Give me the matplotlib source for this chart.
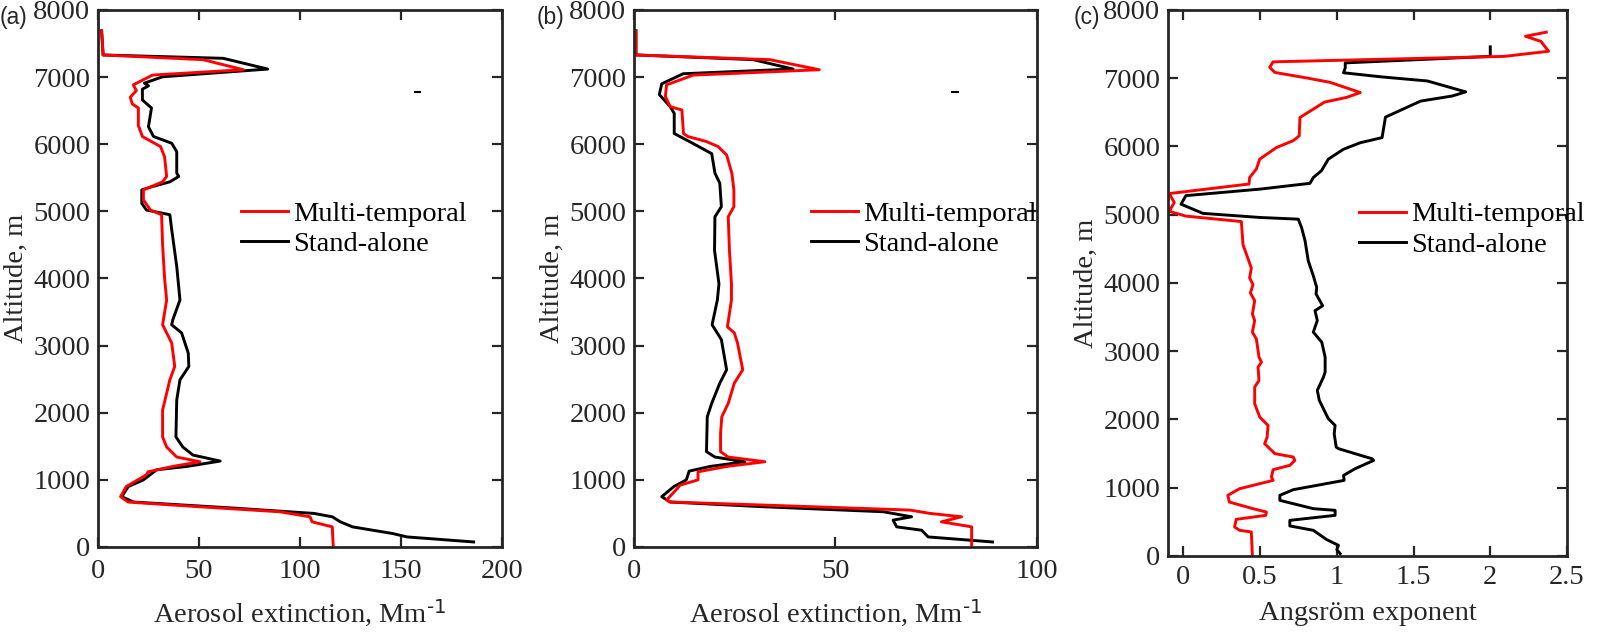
import matplotlib.pyplot as plt

plt.rcParams['font.family'] = ['Liberation Serif', 'DejaVu Serif']
plt.rcParams['mathtext.default'] = 'regular'

# (a) aerosol extinction, Mm-1
alt_a_multi = [7690, 7360, 7330, 7260, 7110, 7030, 6885, 6800, 6700, 6600, 6540, 6280, 6115,
               5965, 5810, 5520, 5440, 5320, 5170, 5020, 4950, 4500, 4000, 3680, 3310, 3040,
               2690, 2490, 2040, 1640, 1490, 1340, 1270, 1200, 1120, 1075, 900, 750, 670, 600,
               525, 450, 375, 300, 0]
ext_a_multi = [1.8, 2.5, 2.5, 52, 72, 27, 17.5, 19, 16, 17, 20, 20, 22,
               31, 33, 34, 32, 22.5, 22.5, 26, 31.5, 32, 33, 34, 32, 36.5,
               38, 35.6, 32, 32, 34, 39, 50.5, 37, 24.8, 24, 14, 11.2, 15, 50,
               90, 105, 106, 116, 116.5]
alt_a_alone = [7690, 7360, 7330, 7280, 7120, 7005, 6910, 6870, 6820, 6660, 6540, 6260, 6115,
               6015, 5890, 5570, 5520, 5440, 5370, 5320, 5120, 5020, 4950, 4730, 4180, 3680,
               3380, 3310, 3190, 2890, 2690, 2490, 2190, 1640, 1490, 1370, 1280, 1200, 1150,
               1000, 900, 750, 670, 580, 500, 450, 375, 300, 200, 150, 75]
ext_a_alone = [1.8, 2.5, 2.5, 62, 84, 32, 23, 25, 22, 22, 26.5, 25, 27.5,
               36.5, 39, 39, 40, 35.6, 27, 21.7, 21.7, 24, 35.6, 36.5, 39, 40.6,
               37, 36.5, 41.4, 44.7, 45, 40.6, 39, 38.6, 42, 47, 60.5, 44, 29,
               22.5, 15, 11.8, 17.6, 67, 107, 116, 120, 126, 146, 153, 186]

# (b) aerosol extinction, Mm-1
alt_b_multi = [7690, 7360, 7330, 7260, 7110, 7030, 6885, 6710, 6560, 6510, 6160, 6115, 6040,
               5965, 5840, 5570, 5320, 5070, 4920, 4420, 3920, 3680, 3280, 3190, 3040, 2640,
               2440, 2140, 1940, 1690, 1420, 1340, 1270, 1200, 1120, 1000, 920, 880, 700, 670,
               625, 550, 500, 450, 375, 300, 0]
ext_b_multi = [0.5, 0.5, 0.5, 33.7, 46, 14.7, 8.1, 7.8, 9, 11.9, 12.3, 13.4, 18,
               20.9, 23, 24.3, 24.8, 24.8, 23.4, 23.7, 24.2, 24.2, 23.2, 24.9, 25.7, 27,
               24.9, 23.4, 21.8, 21.5, 21.5, 23.4, 32.5, 23, 15.9, 15.9, 11.4, 10.9, 8.1, 9,
               32, 68.5, 73.5, 81.3, 76.3, 83.8, 83.8]
alt_b_alone = [7690, 7360, 7330, 7260, 7120, 7050, 6900, 6740, 6560, 6460, 6160, 6010, 5860,
               5570, 5420, 5070, 4920, 4420, 3920, 3680, 3310, 3090, 2640, 2440, 2140, 1940,
               1420, 1340, 1270, 1200, 1130, 1000, 900, 750, 670, 600, 525, 450, 400, 300,
               250, 150, 75]
ext_b_alone = [0.5, 0.5, 0.5, 29.6, 39.5, 12.2, 6.9, 6.3, 9, 10, 10, 14.7, 19.3,
               20.1, 21.3, 21.7, 20.1, 20, 21.1, 20.7, 19.4, 21.7, 23, 21.3, 19.3, 18.2,
               18, 20.1, 27.5, 18.9, 13.7, 13, 9.9, 6.9, 9, 32, 61.9, 68.9, 64.3, 65.2,
               71.4, 73, 89]

# (c) Angstrom exponent
alt_c_multi = [7675, 7615, 7540, 7395, 7320, 7240, 7160, 7085, 7000, 6940, 6790, 6720, 6650,
               6425, 6155, 6085, 5985, 5815, 5670, 5545, 5450, 5310, 5180, 5050, 4980, 4900,
               4560, 4220, 4075, 3975, 3855, 3740, 3545, 3450, 3280, 3180, 2915, 2840, 2767,
               2572, 2475, 2230, 2035, 1913, 1742, 1645, 1500, 1450, 1400, 1328, 1264, 1157,
               1108, 986, 889, 790, 693, 644, 595, 537, 425, 376, 352, 0]
ang_c_multi = [2.365, 2.23, 2.33, 2.38, 2.09, 0.585, 0.563, 0.596, 0.814, 0.956, 1.153, 1.065, 0.92,
               0.76, 0.755, 0.716, 0.607, 0.498, 0.476, 0.432, 0.428, -0.092, -0.059, -0.092, 0.017, 0.378,
               0.389, 0.443, 0.432, 0.454, 0.437, 0.465, 0.45, 0.465, 0.45, 0.476, 0.493, 0.509, 0.487,
               0.493, 0.465, 0.465, 0.498, 0.552, 0.546, 0.53, 0.596, 0.716, 0.727, 0.694, 0.585, 0.574,
               0.585, 0.367, 0.29, 0.30, 0.454, 0.541, 0.537, 0.345, 0.334, 0.367, 0.443, 0.45]
alt_c_alone = [7460, 7320, 7225, 7150, 7080, 7020, 6960, 6800, 6740, 6665, 6430, 6130, 6055,
               5960, 5815, 5645, 5545, 5460, 5375, 5280, 5155, 5020, 4960, 4935, 4815, 4620,
               4325, 4105, 3935, 3838, 3667, 3594, 3450, 3280, 3133, 2914, 2694, 2621, 2426,
               2280, 2060, 2011, 1913, 1791, 1596, 1572, 1425, 1400, 1279, 1181, 1108, 971,
               889, 815, 693, 669, 595, 522, 440, 376, 240, 156, 93, 34]
ang_c_alone = [2.0, 2.0, 1.055, 1.055, 1.044, 1.29, 1.59, 1.84, 1.753, 1.546, 1.317, 1.295, 1.153,
               1.044, 0.945, 0.90, 0.847, 0.825, 0.498, 0.017, -0.015, 0.127, 0.498, 0.749, 0.77, 0.793,
               0.814, 0.847, 0.869, 0.865, 0.908, 0.858, 0.873, 0.847, 0.902, 0.924, 0.924, 0.913, 0.873,
               0.886, 0.934, 0.945, 0.989, 0.983, 0.996, 1.011, 1.229, 1.24, 1.12, 1.044, 1.048, 0.716,
               0.629, 0.629, 0.847, 0.989, 0.989, 0.694, 0.694, 0.847, 0.934, 1.011, 1.0, 1.022]

# small stray dashes visible in (a) and (b)
stray_a_x = [157, 159.5]
stray_b_x = [79, 80.5]
stray_alt = [6780, 6780]

red = '#ff0000'
gray = '#262626'
fs = 20.5

fig = plt.figure(figsize=(15.98, 6.32), dpi=100)
ax_a = fig.add_axes([0.0613, 0.1345, 0.2528, 0.8497])
ax_b = fig.add_axes([0.3967, 0.1345, 0.2522, 0.8497])
ax_c = fig.add_axes([0.7309, 0.1203, 0.2497, 0.8639])

ext_label = 'Aerosol extinction, Mm$^{\\text{-1}}$'
panels = [
    (ax_a, alt_a_multi, ext_a_multi, alt_a_alone, ext_a_alone, (0, 200), [0, 50, 100, 150, 200],
     ext_label, 0.325, 0.665, 9, 9),
    (ax_b, alt_b_multi, ext_b_multi, alt_b_alone, ext_b_alone, (0, 100), [0, 50, 100],
     ext_label, 0.41, 0.665, 9, 9),
    (ax_c, alt_c_multi, ang_c_multi, alt_c_alone, ang_c_alone, (-0.1, 2.5), [0, 0.5, 1, 1.5, 2, 2.5],
     'Angsröm exponent', 0.45, 0.67, 6.5, 8),
]

for ax, am, vm, asa, vsa, xl, xt, xlab, lx, ly, xpad, lpad in panels:
    l2, = ax.plot(vsa, asa, color='black', lw=2.1)
    l1, = ax.plot(vm, am, color=red, lw=2.1)
    ax.set_xlim(xl)
    ax.set_ylim(0, 8000)
    ax.set_xticks(xt)
    ax.set_xticklabels([('%g' % t) for t in xt])
    ax.set_yticks(range(0, 8001, 1000))
    ax.set_xlabel(xlab, fontsize=fs, color=gray, labelpad=lpad)
    ax.set_ylabel('Altitude, m', fontsize=fs, color=gray, labelpad=3)
    ax.tick_params(direction='in', length=7, width=1.6, top=True, right=True,
                   labelsize=fs, colors=gray)
    ax.tick_params(axis='x', pad=xpad)
    ax.tick_params(axis='y', pad=5.5)
    for s in ax.spines.values():
        s.set_linewidth(2)
        s.set_color(gray)
    ax.legend([l1, l2], ['Multi-temporal', 'Stand-alone'], frameon=False, fontsize=fs,
              loc='upper left', bbox_to_anchor=(lx, ly), handlelength=1.65,
              handletextpad=0.2, labelspacing=0.15, borderaxespad=0)

ax_a.plot(stray_a_x, stray_alt, color='black', lw=1.5)
ax_b.plot(stray_b_x, stray_alt, color='black', lw=1.5)

for lbl, xpos in [('(a)', 0.0), ('(b)', 0.3355), ('(c)', 0.672)]:
    fig.text(xpos, 0.972, lbl, fontsize=16.5, family='Liberation Sans', color=gray,
             ha='left', va='center')

fig.savefig('out.png', dpi=100)
